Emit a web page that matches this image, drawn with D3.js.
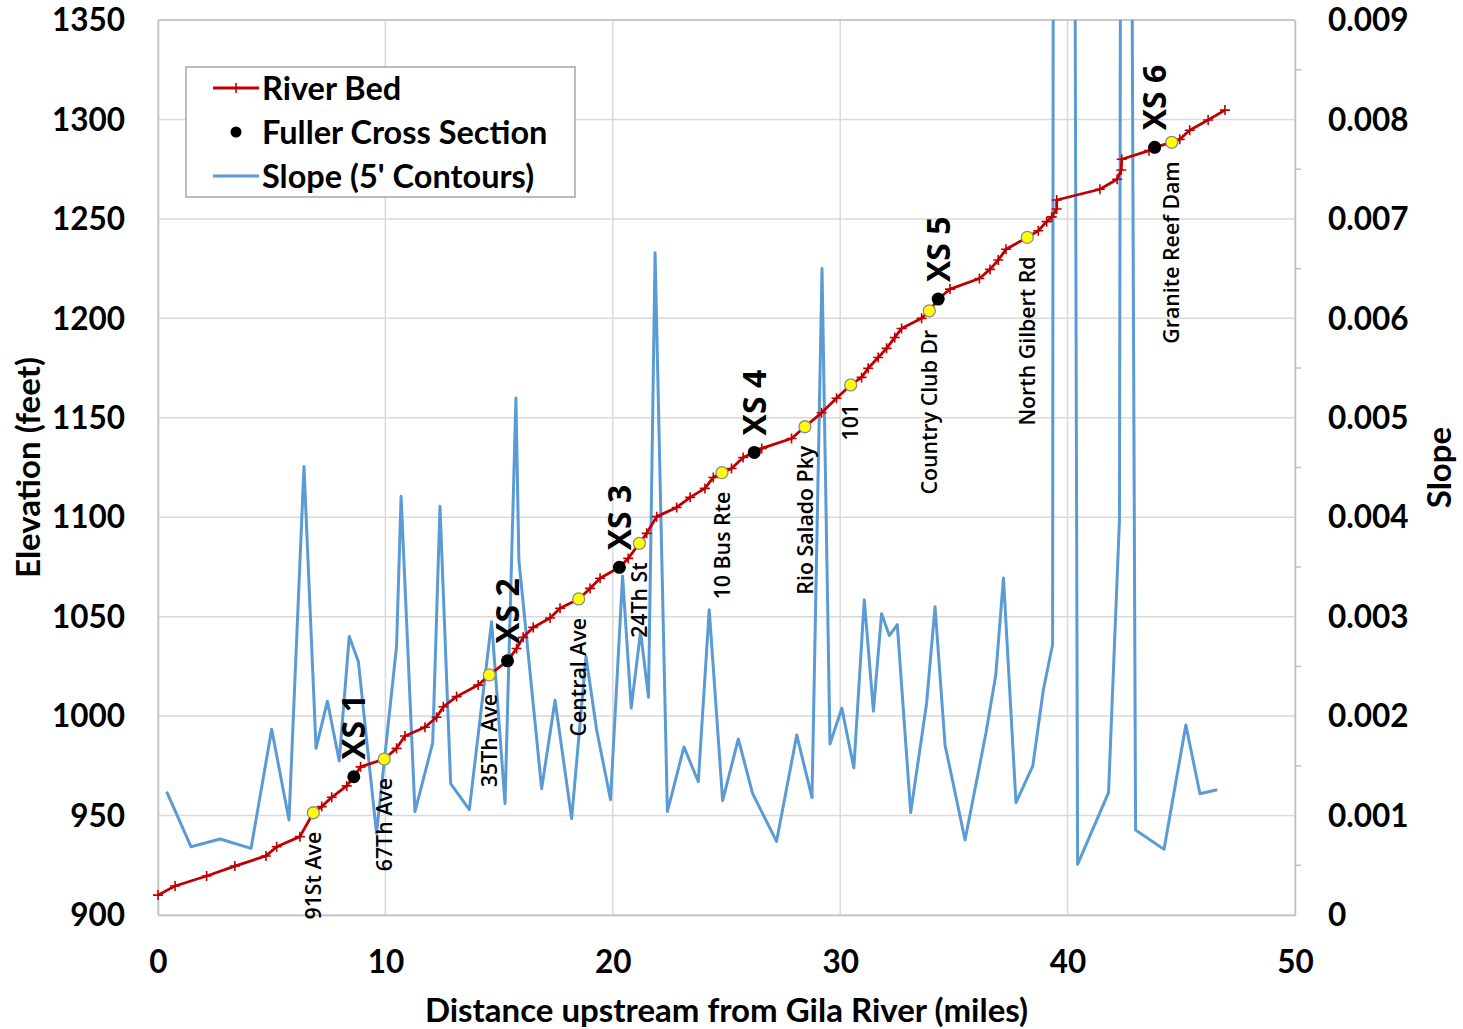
<!DOCTYPE html>
<html>
<head>
<meta charset="utf-8">
<script src="https://cdn.jsdelivr.net/npm/d3@7"></script>
<style>
  html, body { margin: 0; padding: 0; background: #fff; }
  svg { display: block; }
  text { font-family: Lato, "Open Sans", sans-serif; fill: #000; }
</style>
</head>
<body>
<svg id="chart" width="1463" height="1029"></svg>
<script>
// River bed profile (miles upstream, bed elevation in feet)
const bedMiles = [0.0, 0.75, 2.14, 3.38, 4.75, 5.22, 6.24, 7.2, 7.64, 8.3, 8.91, 10.49, 10.86, 11.74, 12.25, 12.55,
  13.13, 14.08, 15.77, 16.06, 16.5, 17.24, 17.68, 19.0, 19.44, 20.68, 21.49, 21.93, 22.81, 23.4, 24.05, 24.42,
  25.22, 25.73, 26.55, 27.86, 29.18, 29.84, 30.94, 31.23, 31.67, 32.04, 32.4, 32.7, 33.58, 34.83, 36.12, 36.59,
  36.95, 37.29, 38.71, 39.08, 39.3, 39.52, 39.52, 41.42, 42.18, 42.36, 42.38, 43.58, 44.93, 45.37, 46.18, 46.92];
const bedElev = [910.0, 914.6, 919.6, 924.6, 929.7, 934.3, 939.4, 954.5, 959.2, 964.9, 974.5, 983.8, 990, 994.4, 999.4, 1004.7,
  1009.8, 1015.6, 1034, 1039.6, 1044.6, 1049.3, 1054.2, 1064.2, 1069.3, 1079.3, 1091.9, 1100.3, 1104.9, 1110, 1114.5, 1120,
  1124.5, 1130, 1134.6, 1139.6, 1152.5, 1159.8, 1170.3, 1174.9, 1180.3, 1184.9, 1190.4, 1194.9, 1200, 1214.7, 1220, 1224.6,
  1229.3, 1234.7, 1244, 1248.6, 1251, 1255, 1259.5, 1264.9, 1269.9, 1274.6, 1280, 1284.3, 1290, 1294.6, 1299.7, 1304.7];

// Road crossings along the river bed
const roadNames = ["91St Ave", "67Th Ave", "35Th Ave", "Central Ave", "24Th St", "10 Bus Rte", "Rio Salado Pky",
  "101", "Country Club Dr", "North Gilbert Rd", "Granite Reef Dam"];
const roadMiles = [6.83, 9.95, 14.57, 18.5, 21.17, 24.8, 28.45, 30.46, 33.92, 38.23, 44.58];
const roadElev = [951.4, 978.4, 1020.7, 1058.9, 1086.9, 1122.4, 1145.5, 1166.5, 1203.8, 1240.7, 1288.5];

// Fuller cross sections
const xsNames = ["XS 1", "XS 2", "XS 3", "XS 4", "XS 5", "XS 6"];
const xsMiles = [8.61, 15.37, 20.29, 26.22, 34.31, 43.83];
const xsElev = [969.5, 1027.8, 1074.8, 1132.6, 1209.7, 1286];

// Bed slope from 5-foot contour crossings
const slopeMiles = [0.38, 1.45, 2.73, 4.09, 5.0, 5.76, 6.42, 6.95, 7.45, 7.97, 8.41, 8.81, 9.61, 10.49, 10.69, 11.3,
  12.08, 12.4, 12.87, 13.69, 14.67, 15.26, 15.74, 15.87, 16.87, 17.46, 18.19, 18.82, 19.29, 19.9, 20.43, 20.81,
  21.22, 21.57, 21.86, 22.4, 23.13, 23.76, 24.24, 24.83, 25.52, 26.15, 27.2, 28.09, 28.76, 29.2, 29.55, 30.07,
  30.6, 31.06, 31.46, 31.82, 32.16, 32.51, 33.1, 33.8, 34.17, 34.61, 35.49, 36.41, 36.84, 37.18, 37.73, 38.47,
  38.93, 39.34, 39.6, 40.44, 41.8, 42.28, 42.48, 42.99, 44.24, 45.2, 45.82, 46.58];
const slopeVals = [0.00124, 0.000687, 0.000764, 0.00067, 0.001867, 0.000955, 0.00451, 0.001676, 0.00215, 0.00155,
  0.0028, 0.00255, 0.00082, 0.0027, 0.00421, 0.00104, 0.00173, 0.00411, 0.00132, 0.00106, 0.00295, 0.00112,
  0.0052, 0.00357, 0.00127, 0.00216, 0.00097, 0.0026, 0.00186, 0.00116, 0.00341, 0.00208, 0.00285, 0.00219,
  0.00666, 0.00104, 0.00169, 0.00134, 0.00307, 0.00115, 0.00177, 0.00122, 0.00074, 0.00181, 0.00118, 0.0065,
  0.00172, 0.00208, 0.00148, 0.00317, 0.00205, 0.00303, 0.00281, 0.00292, 0.00103, 0.00213, 0.0031, 0.00171,
  0.000754, 0.00183, 0.00241, 0.00339, 0.00113, 0.0015, 0.00226, 0.00272, 0.068, 0.00051, 0.00123, 0.00397,
  0.029, 0.000855, 0.00066, 0.00191, 0.00122, 0.00126];

// Axis ticks
const xTicks = [0, 10, 20, 30, 40, 50];
const elevTicks = [900, 950, 1000, 1050, 1100, 1150, 1200, 1250, 1300, 1350];
const slopeTicks = [0, 0.001, 0.002, 0.003, 0.004, 0.005, 0.006, 0.007, 0.008, 0.009];
const slopeMinorTicks = [0.0005, 0.0015, 0.0025, 0.0035, 0.0045, 0.0055, 0.0065, 0.0075, 0.0085];

const legendLabels = ["River Bed", "Fuller Cross Section", "Slope (5' Contours)"];

const RED = "#C00000", BLUE = "#5B9BD5", GRID = "#d9d9d9", AXIS = "#bfbfbf";

const svg = d3.select("#chart");
const plot = { left: 158, right: 1295, top: 20, bottom: 915 };

const x = d3.scaleLinear().domain([0, 50]).range([plot.left, plot.right]);
const yE = d3.scaleLinear().domain([900, 1350]).range([plot.bottom, plot.top]);
const yS = d3.scaleLinear().domain([0, 0.009]).range([plot.bottom, plot.top]);

svg.append("defs").append("clipPath").attr("id", "plotClip")
  .append("rect")
  .attr("x", plot.left).attr("y", plot.top)
  .attr("width", plot.right - plot.left).attr("height", plot.bottom - plot.top);

// Gridlines
const grid = svg.append("g");
grid.selectAll("line.h").data(elevTicks).join("line")
  .attr("x1", plot.left).attr("x2", plot.right)
  .attr("y1", d => yE(d)).attr("y2", d => yE(d))
  .attr("stroke", GRID).attr("stroke-width", 1.5);
grid.selectAll("line.v").data(xTicks).join("line")
  .attr("y1", plot.top).attr("y2", plot.bottom)
  .attr("x1", d => x(d)).attr("x2", d => x(d))
  .attr("stroke", GRID).attr("stroke-width", 1.5);

// Axes
const tickFont = "bold 31.5px Lato";
const gx = svg.append("g").attr("transform", `translate(0,${plot.bottom})`)
  .call(d3.axisBottom(x).tickValues(xTicks).tickSize(0).tickPadding(47).tickFormat(d3.format("d")));
const gl = svg.append("g").attr("transform", `translate(${plot.left},0)`)
  .call(d3.axisLeft(yE).tickValues(elevTicks).tickSize(0).tickPadding(33).tickFormat(d3.format("d")));
const gr = svg.append("g").attr("transform", `translate(${plot.right},0)`)
  .call(d3.axisRight(yS).tickValues(slopeTicks).tickSize(0).tickPadding(33)
    .tickFormat(d => d === 0 ? "0" : d3.format(".3f")(d)));
[gx, gl, gr].forEach(g => {
  g.select(".domain").attr("stroke", AXIS).attr("stroke-width", 1.5);
  g.selectAll("text").style("font", tickFont).attr("fill", "#000").attr("dy", "0.34em");
});

// Minor ticks on the slope axis
svg.append("g").selectAll("line").data(slopeMinorTicks).join("line")
  .attr("x1", plot.right).attr("x2", plot.right + 6)
  .attr("y1", d => yS(d)).attr("y2", d => yS(d))
  .attr("stroke", AXIS).attr("stroke-width", 1.5);

// Top border of the plot area
svg.append("line")
  .attr("x1", plot.left).attr("x2", plot.right)
  .attr("y1", plot.top).attr("y2", plot.top)
  .attr("stroke", AXIS).attr("stroke-width", 1.5);

// Axis titles
const titleFont = "bold 33px Lato";
svg.append("text")
  .attr("transform", `translate(40,${(plot.top + plot.bottom) / 2}) rotate(-90)`)
  .attr("text-anchor", "middle")
  .style("font", titleFont)
  .text("Elevation (feet)");
svg.append("text")
  .attr("transform", `translate(1451,${(plot.top + plot.bottom) / 2}) rotate(-90)`)
  .attr("text-anchor", "middle")
  .style("font", titleFont)
  .text("Slope");
svg.append("text")
  .attr("x", (plot.left + plot.right) / 2).attr("y", 1022)
  .attr("text-anchor", "middle")
  .style("font", titleFont)
  .text("Distance upstream from Gila River (miles)");

// Slope line
const slopeData = slopeMiles.map((m, i) => [m, slopeVals[i]]);
svg.append("path")
  .attr("clip-path", "url(#plotClip)")
  .datum(slopeData)
  .attr("fill", "none").attr("stroke", BLUE).attr("stroke-width", 3)
  .attr("stroke-linejoin", "round")
  .attr("d", d3.line().x(d => x(d[0])).y(d => yS(d[1])));

// River bed line (passes through the road and cross-section points)
const bedData = bedMiles.map((m, i) => [m, bedElev[i]]);
const bedPath = bedData
  .concat(roadMiles.map((m, i) => [m, roadElev[i]]))
  .concat(xsMiles.map((m, i) => [m, xsElev[i]]))
  .sort((a, b) => a[0] - b[0]);
svg.append("path")
  .datum(bedPath)
  .attr("fill", "none").attr("stroke", RED).attr("stroke-width", 2.8)
  .attr("stroke-linejoin", "round")
  .attr("d", d3.line().x(d => x(d[0])).y(d => yE(d[1])));

// "+" markers at surveyed bed points
svg.append("g").selectAll("path").data(bedData).join("path")
  .attr("transform", d => `translate(${x(d[0])},${yE(d[1])})`)
  .attr("d", "M-5,0H5M0,-5V5")
  .attr("stroke", RED).attr("stroke-width", 1.6).attr("fill", "none");

// Road crossing points and labels
svg.append("g").selectAll("circle").data(roadMiles).join("circle")
  .attr("cx", d => x(d)).attr("cy", (d, i) => yE(roadElev[i]))
  .attr("r", 6).attr("fill", "#ffff00").attr("stroke", "#8c8c8c").attr("stroke-width", 1.3);
svg.append("g").selectAll("text").data(roadNames).join("text")
  .attr("transform", (d, i) => `translate(${x(roadMiles[i])},${yE(roadElev[i]) + 19}) rotate(-90)`)
  .attr("text-anchor", "end")
  .attr("dy", "0.36em")
  .style("font-family", "'Open Sans', sans-serif")
  .style("font-size", "21.3px")
  .style("font-weight", "600")
  .text(d => d);

// Fuller cross-section points and labels
svg.append("g").selectAll("circle").data(xsMiles).join("circle")
  .attr("cx", d => x(d)).attr("cy", (d, i) => yE(xsElev[i]))
  .attr("r", 6.5).attr("fill", "#000");
svg.append("g").selectAll("text").data(xsNames).join("text")
  .attr("transform", (d, i) => `translate(${x(xsMiles[i])},${yE(xsElev[i]) - 17}) rotate(-90)`)
  .attr("text-anchor", "start")
  .attr("dy", "0.36em")
  .style("font-family", "'Open Sans', sans-serif")
  .style("font-size", "32px")
  .style("font-weight", "700")
  .text(d => d);

// Legend
const lg = svg.append("g");
lg.append("rect")
  .attr("x", 186).attr("y", 67).attr("width", 389).attr("height", 130)
  .attr("fill", "#fff").attr("stroke", "#a6a6a6").attr("stroke-width", 1.5);
const rowY = [88, 132, 176];
lg.append("line").attr("x1", 213).attr("x2", 259).attr("y1", rowY[0]).attr("y2", rowY[0])
  .attr("stroke", RED).attr("stroke-width", 2.8);
lg.append("path").attr("transform", `translate(236,${rowY[0]})`).attr("d", "M-5,0H5M0,-5V5")
  .attr("stroke", RED).attr("stroke-width", 1.6);
lg.append("circle").attr("cx", 236).attr("cy", rowY[1]).attr("r", 5.5).attr("fill", "#000");
lg.append("line").attr("x1", 213).attr("x2", 259).attr("y1", rowY[2]).attr("y2", rowY[2])
  .attr("stroke", BLUE).attr("stroke-width", 3);
lg.selectAll("text.leg").data(legendLabels).join("text")
  .attr("x", 262).attr("y", (d, i) => rowY[i])
  .attr("dy", "0.36em")
  .style("font", "bold 32.5px Lato")
  .text(d => d);
</script>
</body>
</html>
